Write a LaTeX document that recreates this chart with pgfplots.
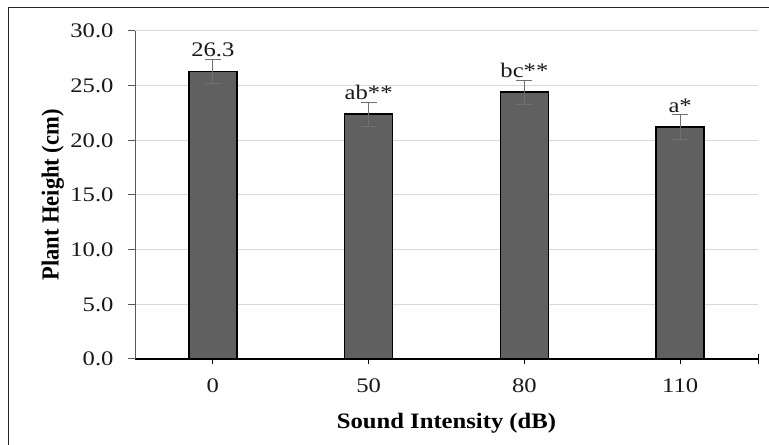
\documentclass[border=0pt]{standalone}
\usepackage{pgfplots}
\pgfplotsset{compat=1.18}
\usepackage{pgfplotstable}
\usepackage{fontspec}
\setmainfont{Liberation Serif}
% the reference is stretched sideways, so the text is too
\newfontfamily\tickfont{Liberation Serif}[FakeStretch=1.19]
\newfontfamily\xlabfont{Liberation Serif}[FakeStretch=1.12]
\newfontfamily\ylabfont{Liberation Serif}[FakeStretch=0.92]
\definecolor{barfill}{HTML}{606060}
\definecolor{axgray}{HTML}{595959}
\definecolor{gridgray}{HTML}{D9D9D9}
\definecolor{errgray}{HTML}{707070}

\pgfplotstableread{
x y err lab
0 26.3 1.1 26.3
1 22.4 1.1 ab**
2 24.4 1.1 bc**
3 21.2 1.15 a*
}\heights

\begin{document}
\begin{tikzpicture}
\useasboundingbox (0,0) rectangle (769bp,445bp);
\draw[line width=1bp, black!85] (8bp,0) -- (8bp,437.5bp) -- (769bp,437.5bp);
\begin{axis}[
    at={(135bp,86bp)}, anchor=south west,
    width=623bp, height=328bp, scale only axis,
    xmin=-0.5, xmax=3.5, ymin=0, ymax=30,
    axis x line*=bottom, axis y line*=left,
    x axis line style={black, line width=1.2bp},
    y axis line style={axgray, line width=1bp},
    ytick={0,5,...,30},
    ymajorgrids, grid style={gridgray, line width=1bp},
    tick align=outside, major tick length=7bp,
    ytick style={axgray, line width=1bp},
    xtick=\empty,
    extra x ticks={0,1,2,3,3.5},
    extra x tick labels={0,50,80,110,{}},
    extra x tick style={tick align=center, major tick length=10bp,
        xtick style={black, line width=1bp}},
    /pgf/number format/assume math mode=true,
    yticklabel style={xshift=-11bp, /pgf/number format/.cd, fixed, fixed zerofill, precision=1},
    xticklabel style={yshift=-11bp},
    tick label style={font=\tickfont\fontsize{20.7bp}{24bp}\selectfont, text=black!90},
    xlabel={\xlabfont\fontsize{22bp}{26bp}\selectfont\bfseries Sound Intensity (dB)},
    ylabel={\ylabfont\fontsize{24.5bp}{28bp}\selectfont\bfseries Plant Height (cm)},
    xlabel style={at={(axis description cs:0.5,-0.195)}, anchor=center},
    ylabel style={at={(axis description cs:-0.132,0.5)}, anchor=center},
    clip=false,
]
\addplot[ybar, bar width=48bp, fill=barfill, draw=black, line width=1.5bp,
    error bars/.cd, y dir=both, y explicit,
    error bar style={errgray, line width=1bp},
    error mark options={errgray, line width=1bp, mark size=8bp, rotate=90}]
    table[x=x, y=y, y error=err] {\heights};
\addplot[draw=none, mark=none, nodes near coords, point meta=explicit symbolic,
    nodes near coords style={anchor=south, inner sep=0pt, yshift=2bp,
        font=\tickfont\fontsize{20.7bp}{24bp}\selectfont, text=black!90}]
    table[x=x, y expr=\thisrow{y}+\thisrow{err}, meta=lab] {\heights};
\end{axis}
\end{tikzpicture}
\end{document}
